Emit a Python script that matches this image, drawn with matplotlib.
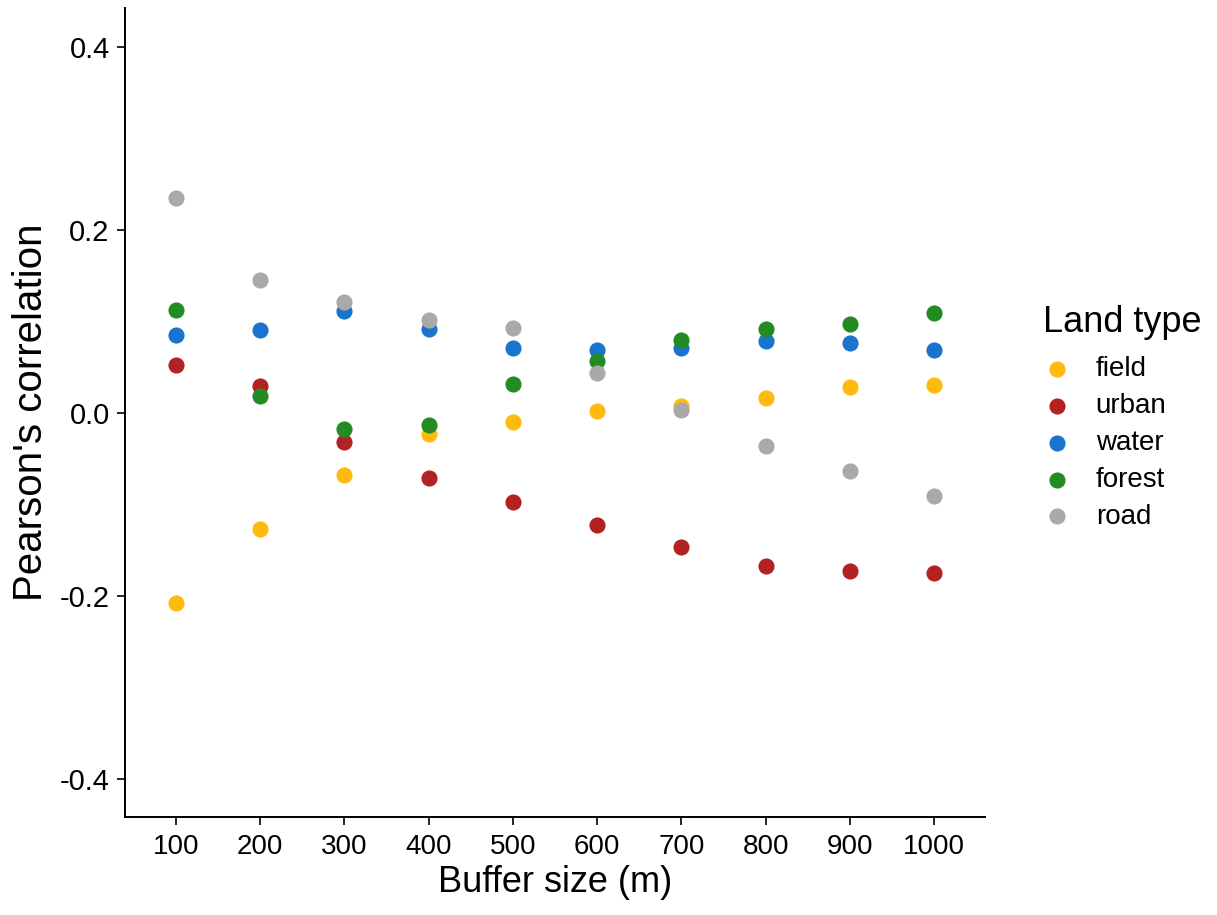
import matplotlib
matplotlib.use("Agg")
import matplotlib.pyplot as plt

plt.rcParams['font.family'] = ['Liberation Sans', 'DejaVu Sans']

buffer_sizes = [100, 200, 300, 400, 500, 600, 700, 800, 900, 1000]

land_types = ['field', 'urban', 'water', 'forest', 'road']
colors = ['#FFB90F', '#B22222', '#1874CD', '#228B22', '#A9A9A9']

field = [-0.208, -0.127, -0.068, -0.023, -0.010, 0.002, 0.008, 0.016, 0.028, 0.031]
urban = [0.052, 0.030, -0.032, -0.071, -0.097, -0.122, -0.146, -0.167, -0.173, -0.175]
water = [0.085, 0.091, 0.111, 0.092, 0.071, 0.069, 0.071, 0.079, 0.077, 0.069]
forest = [0.113, 0.019, -0.017, -0.013, 0.032, 0.057, 0.080, 0.092, 0.097, 0.109]
road = [0.235, 0.145, 0.121, 0.102, 0.093, 0.044, 0.003, -0.036, -0.063, -0.091]

series = [field, urban, water, forest, road]

fig = plt.figure(figsize=(12.17, 9.15), dpi=100)
ax = fig.add_axes([0.1027, 0.1071, 0.7067, 0.8842])

for name, vals, col in zip(land_types, series, colors):
    ax.scatter(buffer_sizes, vals, s=135, color=col, label=name, linewidths=0)

ax.set_xlim(39.4, 1060.6)
ax.set_ylim(-0.4415, 0.4426)
ax.set_xticks(buffer_sizes)
ax.set_yticks([-0.4, -0.2, 0.0, 0.2, 0.4])
ax.set_yticklabels(['-0.4', '-0.2', '0.0', '0.2', '0.4'])

for side in ['top', 'right']:
    ax.spines[side].set_visible(False)
for side in ['left', 'bottom']:
    ax.spines[side].set_linewidth(1.4)
ax.tick_params(axis='both', length=6, width=1.2, colors='black')
ax.tick_params(axis='x', labelsize=20, pad=6)
ax.tick_params(axis='y', labelsize=21, pad=5)

ax.set_xlabel('Buffer size (m)', fontsize=26, labelpad=4)
ax.set_ylabel("Pearson's correlation", fontsize=29, labelpad=7)

leg = fig.legend(title='Land type', loc='upper left', bbox_to_anchor=(0.857, 0.667),
                 frameon=False, fontsize=20, title_fontsize=26,
                 borderpad=0, borderaxespad=0,
                 handlelength=1.0, handletextpad=0.9, labelspacing=0.39)
leg._legend_box.align = 'left'
leg._legend_box.sep = 12

fig.savefig('out.png', dpi=100)
